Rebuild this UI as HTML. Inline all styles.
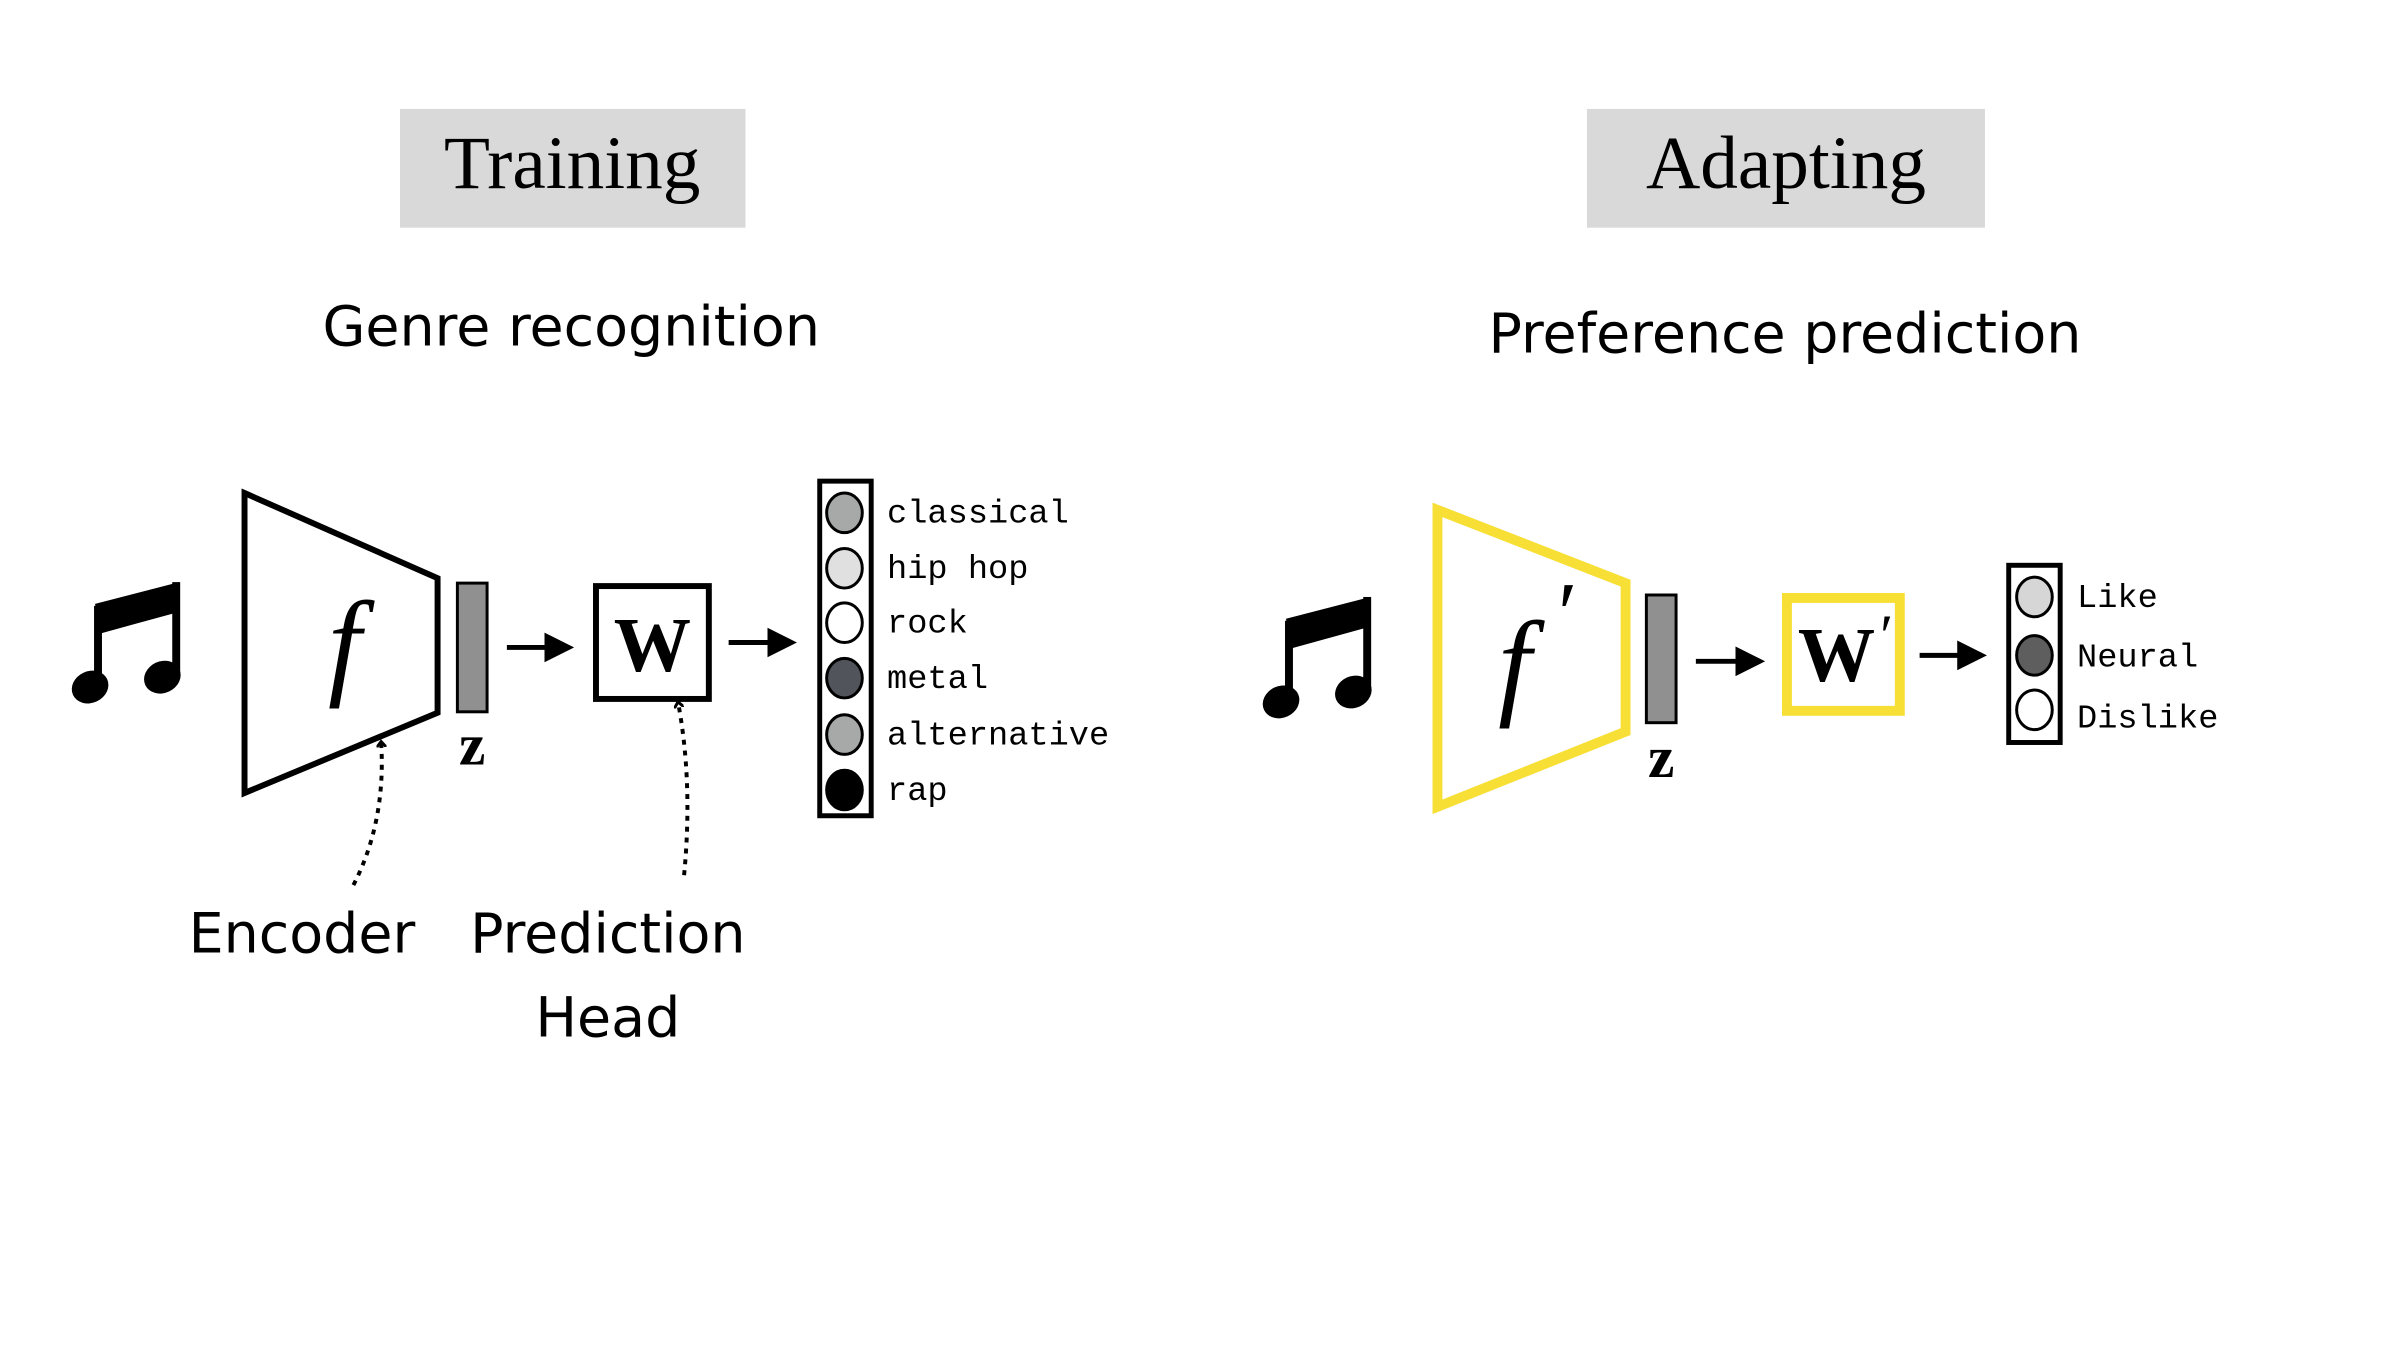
<!DOCTYPE html>
<html><head><meta charset="utf-8"><style>
body{margin:0;background:#fff;}
svg{display:block}
.ser{font-family:"Liberation Serif",serif;}
.sans{font-family:"DejaVu Sans","Liberation Sans",sans-serif;}
.mono{font-family:"Liberation Mono",monospace;font-size:34px;}
</style></head><body>
<svg width="2400" height="1350" viewBox="0 0 2400 1350" xmlns="http://www.w3.org/2000/svg">
<defs>
<marker id="ah" markerWidth="6" markerHeight="6" refX="5" refY="3" orient="auto" markerUnits="strokeWidth"><path d="M0,0 L6,3 L0,6 z" fill="#000"/></marker>
<marker id="oa" markerWidth="10" markerHeight="10" refX="5" refY="5" orient="auto" markerUnits="userSpaceOnUse"><path d="M0,0 L6,5 L0,10" fill="none" stroke="#000" stroke-width="3"/></marker>
</defs>
<g transform="scale(0.99)">
<rect x="404" y="110" width="349" height="120" fill="#d9d9d9"/>
<text x="578" y="190" text-anchor="middle" class="ser" font-size="76">Training</text>
<rect x="1603" y="110" width="402" height="120" fill="#d9d9d9"/>
<text x="1804" y="190" text-anchor="middle" class="ser" font-size="76">Adapting</text>
<text x="577" y="349" text-anchor="middle" class="sans" font-size="56">Genre recognition</text>
<text x="1803" y="356" text-anchor="middle" class="sans" font-size="56">Preference prediction</text>

<g transform="translate(74,588)">
<path d="M22,22 L107,0 L107,30 L27,52 Z" fill="#000"/>
<rect x="21" y="24" width="8" height="82" fill="#000"/>
<rect x="100" y="0" width="8" height="96" fill="#000"/>
<ellipse cx="17" cy="106" rx="19" ry="16" transform="rotate(-25 17 106)" fill="#000"/>
<ellipse cx="90" cy="96" rx="19" ry="16" transform="rotate(-25 90 96)" fill="#000"/>
</g>
<polygon points="247,498 442,584 442,720 247,801" fill="none" stroke="#000" stroke-width="6"/>
<text x="348" y="690" text-anchor="middle" class="ser" font-style="italic" font-size="120">f</text>
<rect x="462" y="589" width="30" height="130" fill="#909090" stroke="#000" stroke-width="3"/>
<text x="477" y="772" text-anchor="middle" class="ser" font-weight="bold" font-size="60">z</text>
<line x1="512" y1="654" x2="575" y2="654" stroke="#000" stroke-width="5" marker-end="url(#ah)"/>
<rect x="602" y="592" width="114" height="114" fill="#fff" stroke="#000" stroke-width="6"/>
<text x="659" y="678" text-anchor="middle" class="ser" font-weight="bold" font-size="78">W</text>
<line x1="736" y1="649" x2="800" y2="649" stroke="#000" stroke-width="5" marker-end="url(#ah)"/>
<rect x="828" y="486" width="52" height="338" fill="none" stroke="#000" stroke-width="5"/>
<g stroke="#000" stroke-width="3">
<ellipse cx="853" cy="518" rx="18" ry="20" fill="#a7a9a8"/>
<ellipse cx="853" cy="574" rx="18" ry="20" fill="#dfe0df"/>
<ellipse cx="853" cy="629" rx="18" ry="20" fill="#fff"/>
<ellipse cx="853" cy="685" rx="18" ry="20" fill="#51555b"/>
<ellipse cx="853" cy="742" rx="18" ry="20" fill="#a7a9a8"/>
<ellipse cx="853" cy="798" rx="18" ry="20" fill="#000"/>
</g>
<g class="mono">
<text x="896" y="528">classical</text>
<text x="896" y="584">hip hop</text>
<text x="896" y="639">rock</text>
<text x="896" y="695">metal</text>
<text x="896" y="752">alternative</text>
<text x="896" y="808">rap</text>
</g>
<path d="M357,894 Q390,830 385,750" fill="none" stroke="#000" stroke-width="4" stroke-dasharray="5,6" marker-end="url(#oa)"/>
<path d="M691,884 Q700,790 685,710" fill="none" stroke="#000" stroke-width="4" stroke-dasharray="5,6" marker-end="url(#oa)"/>
<text x="305" y="962" text-anchor="middle" class="sans" font-size="56">Encoder</text>
<text x="614" y="962" text-anchor="middle" class="sans" font-size="56">Prediction</text>
<text x="614" y="1047" text-anchor="middle" class="sans" font-size="56">Head</text>

<g transform="translate(1277,603)">
<path d="M22,22 L107,0 L107,30 L27,52 Z" fill="#000"/>
<rect x="21" y="24" width="8" height="82" fill="#000"/>
<rect x="100" y="0" width="8" height="96" fill="#000"/>
<ellipse cx="17" cy="106" rx="19" ry="16" transform="rotate(-25 17 106)" fill="#000"/>
<ellipse cx="90" cy="96" rx="19" ry="16" transform="rotate(-25 90 96)" fill="#000"/>
</g>
<polygon points="1452,515 1642,589 1642,739 1452,815" fill="none" stroke="#f7df35" stroke-width="10"/>
<text x="1530" y="710" text-anchor="middle" class="ser" font-style="italic" font-size="120">f</text>
<text x="1578" y="650" text-anchor="middle" class="ser" font-style="italic" font-size="90">′</text>
<rect x="1663" y="601" width="30" height="129" fill="#909090" stroke="#000" stroke-width="3"/>
<text x="1678" y="785" text-anchor="middle" class="ser" font-weight="bold" font-size="60">z</text>
<line x1="1713" y1="668" x2="1778" y2="668" stroke="#000" stroke-width="5" marker-end="url(#ah)"/>
<rect x="1805" y="604" width="114" height="114" fill="#fff" stroke="#f7df35" stroke-width="10"/>
<text x="1855" y="688" text-anchor="middle" class="ser" font-weight="bold" font-size="78">W</text>
<text x="1902" y="662" text-anchor="middle" class="ser" font-style="italic" font-size="60">′</text>
<line x1="1939" y1="662" x2="2002" y2="662" stroke="#000" stroke-width="5" marker-end="url(#ah)"/>
<rect x="2029" y="571" width="52" height="179" fill="none" stroke="#000" stroke-width="5"/>
<g stroke="#000" stroke-width="3">
<ellipse cx="2055" cy="603" rx="18" ry="20" fill="#d6d6d6"/>
<ellipse cx="2055" cy="662" rx="18" ry="20" fill="#5e5e5e"/>
<ellipse cx="2055" cy="717" rx="18" ry="20" fill="#fff"/>
</g>
<g class="mono">
<text x="2098" y="613">Like</text>
<text x="2098" y="673">Neural</text>
<text x="2098" y="735">Dislike</text>
</g>
</g>
</svg>
</body></html>
